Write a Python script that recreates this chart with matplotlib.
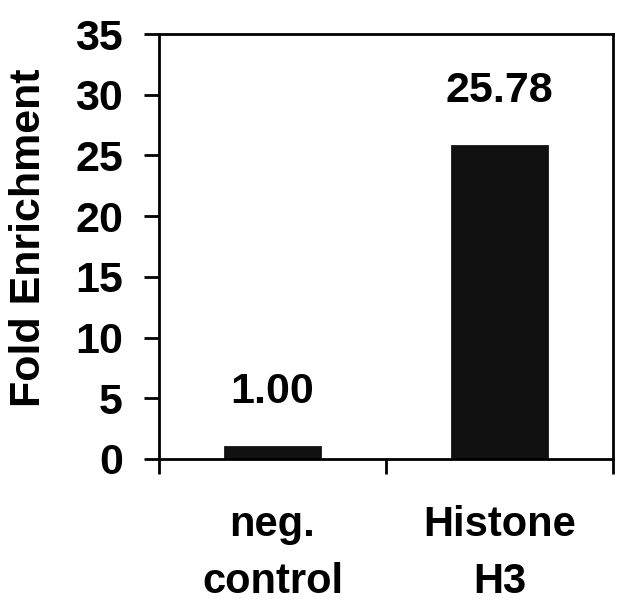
import matplotlib
matplotlib.use("Agg")
import matplotlib.pyplot as plt
import numpy as np

plt.rcParams['font.family'] = ['Liberation Sans', 'DejaVu Sans']
plt.rcParams['font.weight'] = 'bold'

categories = ["neg.\ncontrol", "Histone\nH3"]
values = [1.00, 25.78]
value_labels = ["1.00", "25.78"]
yticks = [0, 5, 10, 15, 20, 25, 30, 35]

fig = plt.figure(figsize=(6.4, 6.09), dpi=100)
ax = fig.add_axes([159/640, 1-459/609, (613-159)/640, (459-34)/609])

x = np.arange(len(categories))
ax.bar(x, values, width=0.42, color='#111111', edgecolor='#111111', linewidth=2)

for xi, v, lab in zip(x, values, value_labels):
    ax.annotate(lab, (xi, v), xytext=(0, 25), textcoords='offset points',
                ha='center', va='bottom', fontsize=31, fontweight='bold')

ax.set_xlim(-0.5, 1.5)
ax.set_ylim(0, 35)
ax.set_yticks(yticks)
ax.set_yticklabels([str(t) for t in yticks], fontsize=31, fontweight='bold')
ax.set_xticks([-0.5, 0.5, 1.5])
ax.set_xticklabels([])
ax.tick_params(axis='both', direction='out', length=11, width=2, pad=15)

for xi, c in zip(x, categories):
    ax.text(xi, -46/425, c, transform=ax.get_xaxis_transform(), ha='center', va='top',
            fontsize=30, fontweight='bold', linespacing=1.55)

for s in ax.spines.values():
    s.set_linewidth(2)

ax.set_ylabel("Fold Enrichment", fontsize=31, fontweight='bold')
ax.yaxis.set_label_coords(-110/454, 0.52)

fig.savefig("out.png", dpi=100)
